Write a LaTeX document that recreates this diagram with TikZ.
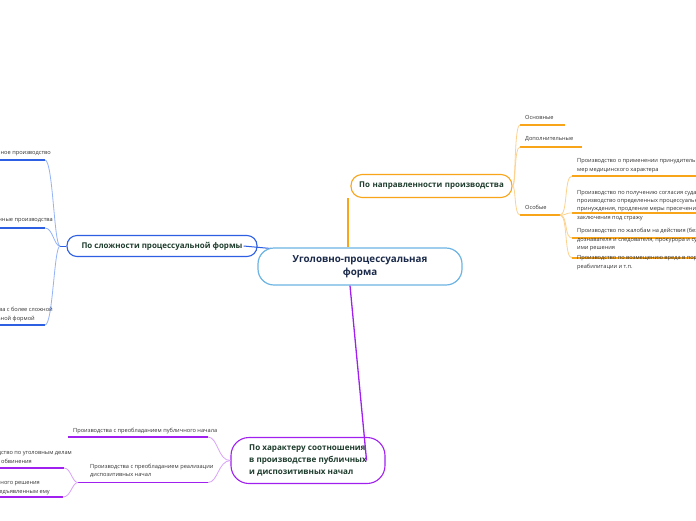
\documentclass[tikz,border=0pt]{standalone}
\usepackage{fontspec}
\setmainfont{Open Sans}
\definecolor{cOr}{HTML}{F9A51A}
\definecolor{cOrL}{HTML}{FDD28F}
\definecolor{cBl}{HTML}{2D5FE3}
\definecolor{cBlL}{HTML}{94B3F6}
\definecolor{cPu}{HTML}{A020F0}
\definecolor{cPuL}{HTML}{D9A3F7}
\definecolor{cCe}{HTML}{6CB4E4}
\definecolor{cNavy}{HTML}{1B2A4A}
\definecolor{cGreen}{HTML}{1F3D2E}
\definecolor{cTxt}{HTML}{333333}
\tikzset{
  leaf/.style={inner sep=0pt, align=left, anchor=north west, text=cTxt, font=\fontsize{5.65}{8.3}\selectfont},
  leafline/.style={inner sep=0pt, anchor=base east, text=cTxt, font=\fontsize{5.65}{8.3}\selectfont},
  topic/.style={draw, fill=white, line width=1.1pt, rounded corners=11pt, inner sep=0pt, text=cGreen, font=\bfseries\fontsize{7.95}{12}\selectfont},
  curveO/.style={cOrL, line width=0.8pt},
  curveB/.style={cBlL, line width=0.8pt},
  curveP/.style={cPuL, line width=0.8pt},
  ulO/.style={cOr, line width=1.8pt},
  ulB/.style={cBl, line width=1.8pt},
  ulP/.style={cPu, line width=1.8pt},
}
\begin{document}
\begin{tikzpicture}[x=1pt,y=-1pt]
\useasboundingbox (0,0) rectangle (696,520);
\clip (0,0) rectangle (696,520);
\fill[white] (0,0) rectangle (696,520);

% ---------- main nodes ----------
\node[topic, draw=cBl, minimum width=190pt, minimum height=21pt, rounded corners=10pt] (blue) at (162,246) {По сложности процессуальной формы};
\draw[cBl, line width=1pt] ([xshift=-14pt]blue.east) -- (282,249.5) coordinate (bendB);
\node[draw=cCe, fill=white, line width=1.2pt, rounded corners=16pt, minimum width=204pt, minimum height=37pt, inner sep=0pt, align=center, text=cNavy, font=\bfseries\fontsize{9.8}{12.5}\selectfont] (c) at (360,266.5) {Уголовно-процессуальная\\форма};
\node[topic, draw=cOr, minimum width=161pt, minimum height=23pt, xshift=2pt, text width=150pt, align=center] (o) at (429.5,186) {По направленности производства};
\node[topic, draw=cPu, minimum width=154pt, minimum height=46pt, rounded corners=18pt, align=left, font=\bfseries\fontsize{8.1}{12.2}\selectfont] (p) at (308,460.5) {По характеру соотношения\\в производстве публичных\\и диспозитивных начал};

% central connectors
\draw[cOr, line width=1.3pt] (c.north -| 348,0) -- (o.south -| 348,0);
\draw[cPu, line width=1.3pt] ([xshift=-10pt]c.south) -- ([xshift=-19pt]p.east);

% ---------- orange branch ----------
\coordinate (o1a) at (520,125); \coordinate (o1b) at (565,125);
\coordinate (o2a) at (520,147); \coordinate (o2b) at (582,147);
\coordinate (o3a) at (520,215); \coordinate (o3b) at (560,215);
\node[leaf, anchor=base west] (o1) at (525,119.5) {Основные};
\node[leaf, anchor=base west] (o2) at (525,140.5) {Дополнительные};
\node[leaf, anchor=base west] (o3) at (525,209.5) {Особые};
\draw[ulO] (o1a) -- (o1b);
\draw[ulO] (o2a) -- (o2b);
\draw[ulO] (o3a) -- (o3b);
\draw[curveO] (o.east) .. controls (516,186) and (514,125) .. (o1a);
\draw[curveO] (o.east) .. controls (516,186) and (514,147) .. (o2a);
\draw[curveO] (o.east) .. controls (516,186) and (514,215) .. (o3a);

\coordinate (s1a) at (572,176); \coordinate (s1b) at (700,176);
\coordinate (s2a) at (572,213); \coordinate (s2b) at (700,213);
\coordinate (s3a) at (572,238); \coordinate (s3b) at (700,238);
\coordinate (s4a) at (572,258); \coordinate (s4b) at (700,258);
\draw[ulO] (s1a) -- (s1b);
\draw[ulO] (s2a) -- (s2b);
\draw[ulO] (s3a) -- (s3b);
\draw[ulO] (s4a) -- (s4b);
\draw[curveO] (o3b) .. controls (568,215) and (564,176) .. (s1a);
\draw[curveO] (o3b) .. controls (568,215) and (564,213) .. (s2a);
\draw[curveO] (o3b) .. controls (568,215) and (564,238) .. (s3a);
\draw[curveO] (o3b) .. controls (568,215) and (564,258) .. (s4a);
\node[leaf, font=\fontsize{5.65}{9}\selectfont] (s1) at (577,158.3) {Производство о применении принудительных\\мер медицинского характера};
\node[leaf] (s2) at (577,190) {Производство по получению согласия суда на\\производство определенных процессуальных\\принуждения, продление меры пресечения в виде\\заключения под стражу};
\node[leaf] (s3) at (577,228.3) {Производство по жалобам на действия (бездействие)\\дознавателя и следователя, прокурора и суда и на принятые\\ими решения};
\node[leaf] (s4) at (577,255.5) {Производство по возмещению вреда в порядке\\реабилитации и т.п.};

% ---------- blue branch ----------
\coordinate (bj) at (60,246);
\draw[cBl, line width=1pt] (bj) -- (blue.west);
\coordinate (b1a) at (-5,160); \coordinate (b1b) at (45,160);
\coordinate (b2a) at (-5,228); \coordinate (b2b) at (45,228);
\coordinate (b3a) at (-5,325); \coordinate (b3b) at (45,325);
\draw[ulB] (b1a) -- (b1b);
\draw[ulB] (b2a) -- (b2b);
\draw[ulB] (b3a) -- (b3b);
\draw[curveB] (bj) .. controls (54,246) and (53,160) .. (b1b);
\draw[curveB] (bj) .. controls (54,246) and (53,228) .. (b2b);
\draw[curveB] (bj) .. controls (54,246) and (53,325) .. (b3b);
\node[leafline] (b1) at (51,154) {Обычное производство};
\node[leafline] (b2) at (53,221.5) {Упрощенные производства};
\node[leafline] (b3l1) at (53,311) {Производства с более сложной};
\node[leafline] (b3l2) at (35,320) {процессуальной формой};

% ---------- purple branch ----------
\coordinate (p1a) at (68,437); \coordinate (p1b) at (208,437);
\coordinate (p2a) at (85,482.5); \coordinate (p2b) at (208,482.5);
\draw[ulP] (p1a) -- (p1b);
\draw[ulP] (p2a) -- (p2b);
\draw[curveP] (p.west) .. controls (218,461) and (218,437) .. (p1b);
\draw[curveP] (p.west) .. controls (218,461) and (218,482.5) .. (p2b);
\node[leaf, anchor=base west] (p1) at (73,432) {Производства с преобладанием публичного начала};
\node[leaf] (p2) at (90,463.5) {Производства с преобладанием реализации\\диспозитивных начал};

\coordinate (pj) at (78,482.5);
\draw[cPu, line width=1pt] (pj) -- (p2a);
\coordinate (q1a) at (-5,468); \coordinate (q1b) at (64,468);
\coordinate (q2a) at (-5,497); \coordinate (q2b) at (63,497);
\draw[ulP] (q1a) -- (q1b);
\draw[ulP] (q2a) -- (q2b);
\draw[curveP] (pj) .. controls (72,482.5) and (71,468) .. (q1b);
\draw[curveP] (pj) .. controls (72,482.5) and (71,497) .. (q2b);
\node[leafline] (q1l1) at (72,454.5) {Производство по уголовным делам};
\node[leafline] (q1l2) at (32,463.5) {частного обвинения};
\node[leafline] (q2l1) at (40,484) {Особый порядок принятия судебного решения};
\node[leafline] (q2l2) at (50,493) {при согласии обвиняемого с предъявленным ему};
\end{tikzpicture}
\end{document}
